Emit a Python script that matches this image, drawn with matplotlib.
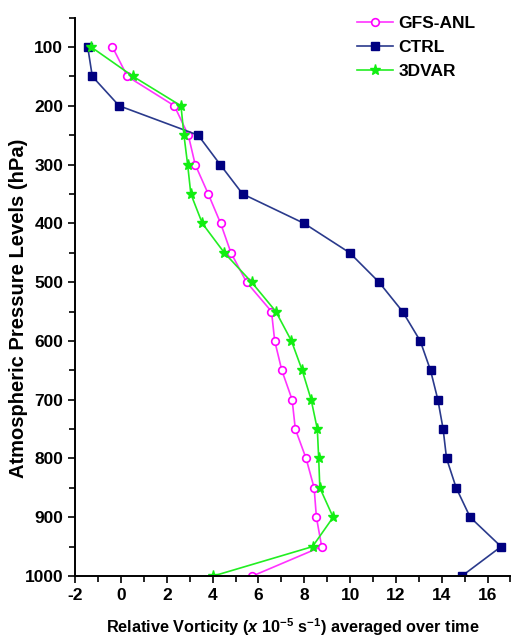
import matplotlib
matplotlib.use("Agg")
import matplotlib.pyplot as plt
from matplotlib.ticker import MultipleLocator

# Pressure levels (hPa)
levels = [100, 150, 200, 250, 300, 350, 400, 450, 500, 550,
          600, 650, 700, 750, 800, 850, 900, 950, 1000]

# Relative vorticity (x 10^-5 s^-1) averaged over time
gfs_anl = [-0.37, 0.28, 2.33, 2.94, 3.24, 3.81, 4.35, 4.80, 5.48, 6.57,
           6.71, 7.02, 7.47, 7.61, 8.08, 8.43, 8.53, 8.76, 5.74]
ctrl = [-1.45, -1.25, -0.08, 3.37, 4.33, 5.31, 7.99, 9.98, 11.26, 12.29,
        13.06, 13.51, 13.83, 14.06, 14.21, 14.63, 15.24, 16.59, 14.88]
var3d = [-1.30, 0.53, 2.62, 2.75, 2.91, 3.05, 3.55, 4.51, 5.70, 6.76,
         7.44, 7.91, 8.30, 8.57, 8.63, 8.68, 9.26, 8.36, 4.03]

plt.rcParams['font.family'] = ['Liberation Sans', 'DejaVu Sans']
plt.rcParams['font.weight'] = 'bold'
plt.rcParams['axes.unicode_minus'] = False
plt.rcParams['mathtext.fontset'] = 'custom'
plt.rcParams['mathtext.rm'] = 'Liberation Sans:bold'
plt.rcParams['mathtext.bf'] = 'Liberation Sans:bold'
plt.rcParams['mathtext.it'] = 'Liberation Sans:bold:italic'

fig = plt.figure(figsize=(5.11, 6.41), dpi=100)
ax = fig.add_axes([0.147, 0.1014, 0.852, 0.8711])

ax.plot(gfs_anl, levels, color='#FF33FF', lw=1.2, marker='o', ms=5.5,
        mfc='white', mec='#FF00FF', mew=1.2, label='GFS-ANL')
ax.plot(ctrl, levels, color='#2A3A8C', lw=1.2, marker='s', ms=5.5,
        mfc='#000080', mec='#000080', label='CTRL')
ax.plot(var3d, levels, color='#22EE22', lw=1.2, marker='*', ms=8,
        mfc='#11EE11', mec='#11EE11', label='3DVAR')

ax.set_xlim(-2, 17)
ax.set_ylim(1000, 50)
ax.set_xticks(range(-2, 17, 2))
ax.set_yticks(range(100, 1001, 100))
ax.xaxis.set_minor_locator(MultipleLocator(1))
ax.yaxis.set_minor_locator(MultipleLocator(50))
ax.tick_params(axis='both', which='both', direction='out', width=1.2, labelsize=12.5)
ax.tick_params(axis='both', which='major', length=5)
ax.tick_params(axis='both', which='minor', length=4)

for s in ['top', 'right']:
  ax.spines[s].set_visible(False)
for s in ['left', 'bottom']:
  ax.spines[s].set_linewidth(1.4)

ax.set_xlabel(r"Relative Vorticity ($\mathit{x}$ 10$^{-5}$ s$^{-1}$) averaged over time",
              fontsize=11.7, fontweight='bold')
ax.xaxis.set_label_coords(0.5, -0.072)
ax.set_ylabel("Atmospheric Pressure Levels (hPa)", fontsize=14.5, fontweight='bold')
ax.yaxis.set_label_coords(-0.108, 0.48)

leg = ax.legend(loc='upper left', bbox_to_anchor=(357/511, 1 - 16/641),
                bbox_transform=fig.transFigure, frameon=False, borderpad=0, borderaxespad=0,
                fontsize=12.5, labelspacing=0.5, handlelength=2.1, handletextpad=0.3)

plt.savefig("out.png", dpi=100)
